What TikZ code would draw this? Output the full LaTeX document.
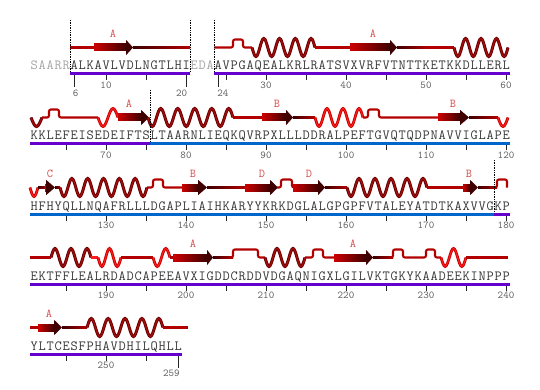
\documentclass[tikz,border=0pt]{standalone}
\usepackage{fontspec}
\usepackage{xcolor}
\usepackage{tikz}
\usetikzlibrary{arrows.meta}
\definecolor{corlaco}{RGB}{178,0,0}
\definecolor{fitaini}{RGB}{205,0,0}
\definecolor{fitafim}{RGB}{62,0,0}
\definecolor{helborda}{RGB}{105,0,0}
\definecolor{helmeio}{RGB}{165,12,12}
\definecolor{clarborda}{RGB}{200,0,0}
\definecolor{clarmeio}{RGB}{255,30,30}
\definecolor{roxo}{RGB}{102,0,204}
\definecolor{azul}{RGB}{0,102,204}
\definecolor{rotcor}{RGB}{215,75,75}
\definecolor{seqcor}{RGB}{55,55,55}
\definecolor{seqcinza}{RGB}{165,165,165}
\definecolor{numcor}{RGB}{95,95,95}
\tikzset{
  laco/.style={draw=corlaco, line width=2.1pt, rounded corners=2pt},
  laco310/.style={draw=clarmeio, line width=2.1pt},
  helice/.style={draw=helborda, double=helmeio, line width=0.9pt, double distance=1.2pt},
  helice310/.style={draw=clarborda, double=clarmeio, line width=0.9pt, double distance=1pt},
  rotulo/.style={text=rotcor, font=\ttfamily\fontsize{12}{12}\selectfont, inner sep=0pt},
  seq/.style={anchor=base west, inner sep=0pt, text=seqcor, font=\ttfamily\fontsize{14}{14}\selectfont},
  num/.style={text=numcor, font=\ttfamily\fontsize{10.5}{10.5}\selectfont, inner sep=0pt},
  tique/.style={draw=black!85, line width=0.7pt},
  pontilhado/.style={draw=black, densely dotted, line width=0.7pt},
}
% uma letra por casa de 8pt
\newcommand{\seqres}[1]{\seqpasso#1\relax}
\def\seqpasso#1{\ifx#1\relax\else\makebox[8pt]{#1}\expandafter\seqpasso\fi}
% helice: x inicial, x final, linha, meias ondas, sentido (1 desce, -1 sobe)
\newcommand{\hel}[6][helice]{%
  \pgfmathsetmacro{\hq}{(#3-#2)/(2*#5)}%
  \draw[#1] (#2,#4) \foreach \j in {1,...,#5}{
    sin ++(\hq,{(#6)*9*(1-2*mod(\j+1,2))}) cos ++(\hq,{(-1)*(#6)*9*(1-2*mod(\j+1,2))})};
}
\newcommand{\fita}[4]{%
  \shade[left color=fitaini, right color=fitafim] (#1,#4-3.5) rectangle (#2,#4+3.5);
  \fill[fitafim] (#2,#4-7.7) -- (#3,#4) -- (#2,#4+7.7) -- cycle;
}
\newcommand{\rabo}[3]{\shade[left color=fitafim, right color=corlaco] (#1,#3-1.05) rectangle (#2,#3+1.05);}

\begin{document}
\begin{tikzpicture}[x=1pt, y=-1pt]
  \useasboundingbox (0,0) rectangle (540,390);

  % linha 1
  \draw[laco] (70,47.5) -- (94,47.5);
  \fita{94}{126}{133}{47.5}
  \rabo{133}{190}{47.5}
  \draw[laco] (214,47.5) -- (233,47.5) -- (233,39.5) -- (243,39.5) -- (243,47.5) -- (252,47.5);
  \hel{252}{315}{47.5}{8}{1}
  \draw[laco] (315,47.5) -- (350,47.5);
  \fita{350}{390}{397}{47.5}
  \rabo{397}{427}{47.5}
  \draw[laco] (427,47.5) -- (454,47.5);
  \hel{454}{508}{47.5}{7}{1}

  % linha 2
  \hel{31}{42}{117.5}{1}{1}
  \draw[laco] (42,117.5) -- (49,117.5) -- (49,109.5) -- (59,109.5) -- (59,117.5) -- (98,117.5);
  \hel[helice310]{98}{118}{117.5}{2}{1}
  \fita{118}{141}{149}{117.5}
  \hel{148}{233}{117.5}{10}{1}
  \draw[laco] (233,117.5) -- (262,117.5);
  \fita{262}{286}{293}{117.5}
  \rabo{293}{315}{117.5}
  \hel[helice310]{315}{363}{117.5}{6}{1}
  \draw[laco] (363,117.5) -- (368,117.5) -- (368,109.5) -- (379,109.5) -- (379,117.5) -- (438,117.5);
  \fita{438}{460}{469}{117.5}
  \rabo{469}{498}{117.5}
  \hel[helice310]{498}{508}{117.5}{1}{1}

  % linha 3
  \hel[helice310]{30}{38}{187.5}{1}{1}
  \rabo{38}{46}{187.5}
  \fita{45}{46}{55}{187.5}
  \rabo{55}{60}{187.5}
  \hel{60}{147}{187.5}{11}{1}
  \draw[laco] (147,187.5) -- (153,187.5) -- (153,179.5) -- (163,179.5) -- (163,187.5) -- (182,187.5);
  \fita{182}{198}{207}{187.5}
  \rabo{207}{245}{187.5}
  \fita{245}{270}{278}{187.5}
  \draw[laco] (277,187.5) -- (281,187.5) -- (281,179.5) -- (292,179.5) -- (292,187.5) -- (294,187.5);
  \fita{293}{318}{325}{187.5}
  \rabo{325}{347}{187.5}
  \hel{347}{427}{187.5}{10}{1}
  \draw[laco] (427,187.5) -- (463,187.5);
  \fita{463}{470}{478}{187.5}
  \rabo{478}{497}{187.5}
  \draw[laco] (494,187.5) -- (497,187.5) -- (497,179.5) -- (507,179.5) -- (507,187.5);

  % linha 4
  \draw[laco] (30,257.5) -- (51,257.5);
  \hel{51}{91}{257.5}{5}{-1}
  \draw[laco310] (91,257.5) -- (98,257.5);
  \hel[helice310]{98}{121}{257.5}{3}{1}
  \draw[laco] (121,257.5) -- (153,257.5);
  \hel[helice310]{153}{170}{257.5}{2}{1}
  \draw[laco] (170,257.5) -- (173,257.5);
  \fita{173}{207}{213}{257.5}
  \rabo{213}{233}{257.5}
  \draw[laco] (230,257.5) -- (233,257.5) -- (233,249.5) -- (258,249.5) -- (258,257.5) -- (265,257.5);
  \hel{265}{305}{257.5}{5}{1}
  \draw[laco] (305,257.5) -- (313,257.5) -- (313,249.5) -- (323,249.5) -- (323,257.5) -- (334,257.5);
  \fita{334}{366}{373}{257.5}
  \rabo{373}{393}{257.5}
  \draw[laco] (390,257.5) -- (393,257.5) -- (393,249.5) -- (403,249.5) -- (403,257.5) -- (426,257.5)
    -- (426,249.5) -- (435,249.5) -- (435,257.5) -- (441,257.5);
  \hel[helice310]{441}{466}{257.5}{3}{1}
  \draw[laco] (466,257.5) -- (508,257.5);

  % linha 5
  \draw[laco] (30,327.5) -- (38,327.5);
  \fita{38}{54}{62}{327.5}
  \rabo{62}{87}{327.5}
  \hel{87}{163}{327.5}{9}{-1}
  \draw[laco] (163,327.5) -- (188,327.5);

  % folhas
  \foreach \f/\x/\y [count=\k] in {A/113/34, A/373/34, A/129/104, B/277/104, B/453/104,
      C/50/174, B/193/174, D/262/174, D/309/174, B/469/174, A/193/244, A/353/244, A/49/314}
    \node[rotulo] (folha\k) at (\x,\y) {\f};

  % sequencia
  \node[seq, text=seqcinza] (q1a) at (30,70) {\seqres{SAARR}};
  \node[seq] (q1b) at (70,70) {\seqres{ALKAVLVDLNGTLHI}};
  \node[seq, text=seqcinza] (q1c) at (190,70) {\seqres{EDA}};
  \node[seq] (q1d) at (214,70) {\seqres{AVPGAQEALKRLRATSVXVRFVTNTTKETKKDLLERL}};
  \node[seq] (q2) at (30,140) {\seqres{KKLEFEISEDEIFTSLTAARNLIEQKQVRPXLLLDDRALPEFTGVQTQDPNAVVIGLAPE}};
  \node[seq] (q3) at (30,210) {\seqres{HFHYQLLNQAFRLLLDGAPLIAIHKARYYKRKDGLALGPGPFVTALEYATDTKAXVVGKP}};
  \node[seq] (q4) at (30,280) {\seqres{EKTFFLEALRDADCAPEEAVXIGDDCRDDVDGAQNIGXLGILVKTGKYKAADEEKINPPP}};
  \node[seq] (q5) at (30,350) {\seqres{YLTCESFPHAVDHILQHLL}};

  % barras
  \fill[roxo] (70,72.5) rectangle (190,75.5);
  \fill[roxo] (214,72.5) rectangle (510,75.5);
  \fill[roxo] (30,142.5) rectangle (150,145.5);
  \fill[azul] (150,142.5) rectangle (510,145.5);
  \fill[azul] (30,212.5) rectangle (494,215.5);
  \fill[roxo] (494,212.5) rectangle (510,215.5);
  \fill[roxo] (30,282.5) rectangle (510,285.5);
  \fill[roxo] (30,352.5) rectangle (182,355.5);

  \foreach \x/\a/\b in {70/20/72.5, 190/20/72.5, 214/20/72.5, 150/90/142.5, 494/160/212.5}
    \draw[pontilhado] (\x,\a) -- (\x,\b);

  % tiques
  \foreach \lin/\lista in {0/{10,15,25,30,35,40,45,50,55,60}, 1/{65,70,...,120},
      2/{125,130,...,180}, 3/{185,190,...,240}, 4/{245,250,255}}{
    \foreach \n in \lista {
      \pgfmathsetmacro{\xt}{34+(\n-1-60*\lin)*8}
      \draw[tique] (\xt,{75.5+70*\lin}) -- ++(0,5);
      \pgfmathtruncatemacro{\resto}{mod(\n,10)}
      \ifnum\resto=0 \node[num] (n\n) at (\xt,{85+70*\lin}) {\n};\fi
    }
  }
  \foreach \n/\lin/\ancora/\desl in {6/0/north west/-1.5, 20/0/north east/1.5,
      24/0/north west/-1, 259/4/north east/2}{
    \pgfmathsetmacro{\xt}{34+(\n-1-60*\lin)*8}
    \draw[tique] (\xt,{75.5+70*\lin}) -- ++(0,12)
      node[num, anchor=\ancora, xshift=\desl, yshift=-2] (n\n) {\n};
  }
\end{tikzpicture}
\end{document}
